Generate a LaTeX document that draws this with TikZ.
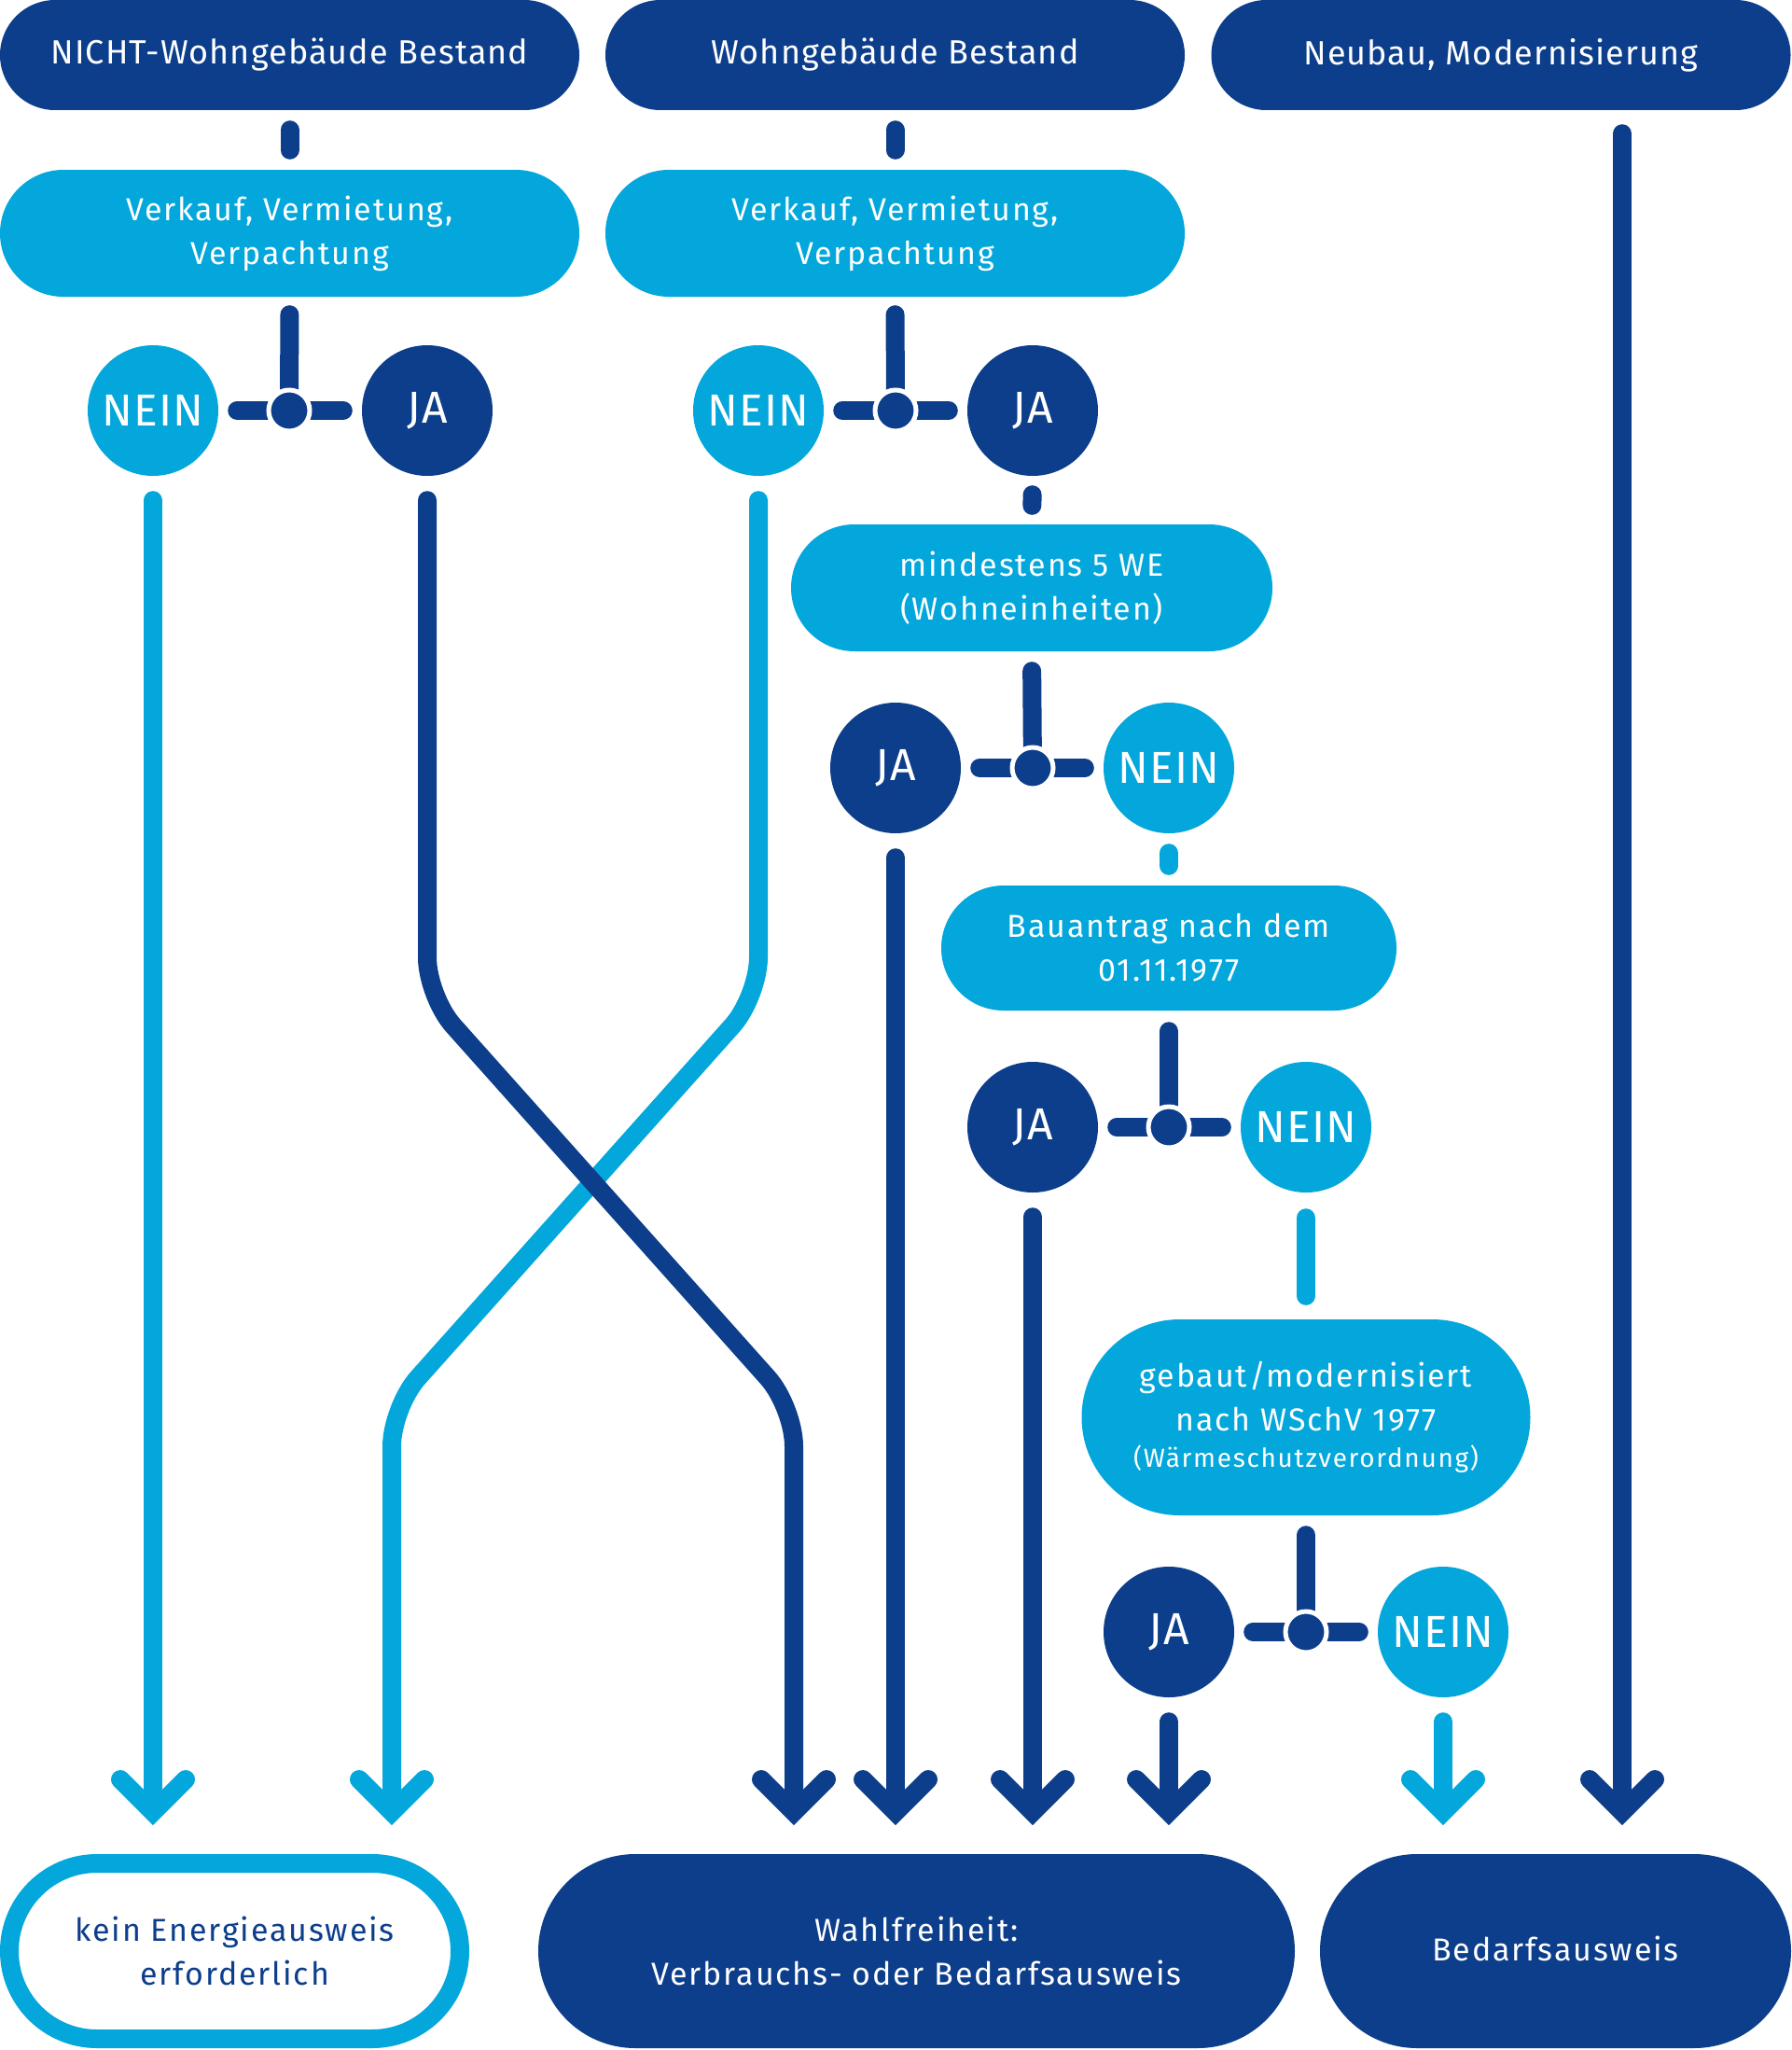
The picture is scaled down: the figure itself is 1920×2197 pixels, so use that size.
\documentclass[tikz,border=0pt]{standalone}
\usepackage{fontspec}
\setmainfont{Fira Sans}
\usetikzlibrary{calc}
\definecolor{dk}{RGB}{12,62,139}
\definecolor{lb}{RGB}{3,167,219}
\newcommand\toptext{\fontsize{36}{44}\selectfont\addfontfeatures{LetterSpace=3}}
\newcommand\bodytext{\fontsize{34}{47}\selectfont\addfontfeatures{LetterSpace=5.5}}
\newcommand\smalltext{\fontsize{28}{32}\selectfont\addfontfeatures{LetterSpace=6}}
\newcommand\circtext{\fontsize{48}{48}\selectfont\addfontfeatures{LetterSpace=2}}
\newcommand\mychev[2]{\draw[#2, line width=20pt, line cap=round, line join=miter] ($(#1)+(-35,-35)$) -- (#1) -- ($(#1)+(35,-35)$);}
\begin{document}
\begin{tikzpicture}[x=1pt,y=-1pt,
  topbox/.style={rectangle, fill=dk, text=white, inner sep=0pt, minimum width=621pt, minimum height=118pt, rounded corners=59pt, font=\toptext},
  qbox/.style={rectangle, fill=lb, text=white, inner sep=0pt, align=center, minimum height=136pt, rounded corners=68pt, font=\bodytext},
  endbox/.style={rectangle, text=white, inner sep=0pt, align=center, minimum height=208pt, rounded corners=104pt, font=\bodytext},
  circ/.style={circle, inner sep=0pt, minimum size=140pt, text=white, font=\circtext},
  janode/.style={circ, fill=dk},
  neinnode/.style={circ, fill=lb},
  jdot/.style={circle, fill=dk, draw=white, line width=5pt, minimum size=44pt, inner sep=0pt},
  con/.style={line width=20pt, line cap=round},
  dkline/.style={con, draw=dk},
  lbline/.style={con, draw=lb}
]
\useasboundingbox (0,0) rectangle (1920,2197);

% top boxes
\node[topbox] (top1) at (310.5,59) {NICHT-Wohngebäude Bestand};
\node[topbox] (top2) at (959.5,59) {Wohngebäude Bestand};
\node[topbox] (top3) at (1609,59) {Neubau, Modernisierung};

% question boxes
\node[qbox, minimum width=621pt] (v1) at (310.5,250) {Verkauf, Vermietung,\\Verpachtung};
\node[qbox, minimum width=621pt] (v2) at (959.5,250) {Verkauf, Vermietung,\\Verpachtung};
\node[qbox, minimum width=516pt] (m) at (1106,630) {mindestens 5 WE\\(Wohneinheiten)};
\node[qbox, minimum width=488pt, minimum height=134pt, rounded corners=67pt] (b) at (1253,1016) {Bauantrag nach dem\\01.11.1977};
\node[qbox, minimum width=481pt, minimum height=210pt, rounded corners=105pt] (g) at (1400,1519) {gebaut/modernisiert\\nach WSchV 1977\\[-8pt]{\smalltext(Wärmeschutzverordnung)}};

% answer circles
\node[neinnode] (nein1) at (164,440) {NEIN};
\node[janode] (ja1) at (458,440) {JA};
\node[neinnode] (nein2) at (813,440) {NEIN};
\node[janode] (ja2) at (1107,440) {JA};
\node[janode] (ja3) at (960,823) {JA};
\node[neinnode] (nein3) at (1253,823) {NEIN};
\node[janode] (ja4) at (1107,1208) {JA};
\node[neinnode] (nein4) at (1400,1208) {NEIN};
\node[janode] (ja5) at (1253,1749) {JA};
\node[neinnode] (nein5) at (1547,1749) {NEIN};

% result boxes
\node[endbox, fill=white, draw=lb, line width=20pt, text=dk, minimum width=483pt, minimum height=188pt, rounded corners=94pt] (k) at (251.5,2091) {kein Energieausweis\\erforderlich};
\node[endbox, fill=dk, minimum width=811pt] (w) at (982.5,2091) {Wahlfreiheit:\\Verbrauchs- oder Bedarfsausweis};
\node[endbox, fill=dk, minimum width=505pt] (bed) at (1667.5,2091) {\raisebox{6pt}{Bedarfsausweis}};

% junction coordinates
\coordinate (j1) at (310,440);
\coordinate (j2) at (960,440);
\coordinate (j3) at (1107,823);
\coordinate (j4) at (1253,1208);
\coordinate (j5) at (1400,1749);

% arrow vertices
\coordinate (t1) at (164,1942);
\coordinate (t2) at (420,1942);
\coordinate (t3) at (851,1942);
\coordinate (t4) at (960,1942);
\coordinate (t5) at (1107,1942);
\coordinate (t6) at (1253,1942);
\coordinate (t7) at (1547,1942);
\coordinate (t8) at (1739,1942);

% bend points of crossing lines
\coordinate (la) at (813,1068);
\coordinate (lb2) at (420,1508);
\coordinate (da) at (458,1068);
\coordinate (db) at (851,1508);

% short connectors
\draw[dkline, shorten <=21pt, shorten >=21pt] (top1.south) -- (v1.north);
\draw[dkline, shorten <=21pt, shorten >=21pt] (top2.south) -- (v2.north);
\draw[dkline, shorten <=20pt, shorten >=20pt] (ja2.south) -- (m.north);
\draw[lbline, shorten <=21pt, shorten >=21pt] (nein3.south) -- (b.north);
\draw[lbline, shorten <=27pt, shorten >=25pt] (nein4.south) -- (g.north);

% T-junctions
\draw[dkline, shorten <=19pt] (v1.south) -- (j1);
\draw[dkline, shorten <=20pt, shorten >=20pt] (nein1.east) -- (ja1.west);
\draw[dkline, shorten <=19pt] (v2.south) -- (j2);
\draw[dkline, shorten <=20pt, shorten >=20pt] (nein2.east) -- (ja2.west);
\draw[dkline, shorten <=21pt] (m.south) -- (j3);
\draw[dkline, shorten <=20pt, shorten >=20pt] (ja3.east) -- (nein3.west);
\draw[dkline, shorten <=22pt] (b.south) -- (j4);
\draw[dkline, shorten <=20pt, shorten >=20pt] (ja4.east) -- (nein4.west);
\draw[dkline, shorten <=21pt] (g.south) -- (j5);
\draw[dkline, shorten <=20pt, shorten >=20pt] (ja5.east) -- (nein5.west);

% long arrows
\draw[lbline, shorten <=26pt, shorten >=10pt] (nein1.south) -- (t1);
\draw[lbline, rounded corners=42pt, shorten >=10pt] ($(nein2.south)+(0,26)$) -- (la) -- (lb2) -- (t2);
\draw[dkline, rounded corners=42pt, shorten >=10pt] ($(ja1.south)+(0,26)$) -- (da) -- (db) -- (t3);
\draw[dkline, shorten <=26pt, shorten >=10pt] (ja3.south) -- (t4);
\draw[dkline, shorten <=26pt, shorten >=10pt] (ja4.south) -- (t5);
\draw[dkline, shorten <=26pt, shorten >=10pt] (ja5.south) -- (t6);
\draw[lbline, shorten <=26pt, shorten >=10pt] (nein5.south) -- (t7);
\draw[dkline, shorten >=10pt] ($(t8 |- top3.south)+(0,25)$) -- (t8);

\mychev{t1}{lb}
\mychev{t2}{lb}
\mychev{t3}{dk}
\mychev{t4}{dk}
\mychev{t5}{dk}
\mychev{t6}{dk}
\mychev{t7}{lb}
\mychev{t8}{dk}

% junction dots
\node[jdot] (d1) at (j1) {};
\node[jdot] (d2) at (j2) {};
\node[jdot] (d3) at (j3) {};
\node[jdot] (d4) at (j4) {};
\node[jdot] (d5) at (j5) {};
\end{tikzpicture}
\end{document}
